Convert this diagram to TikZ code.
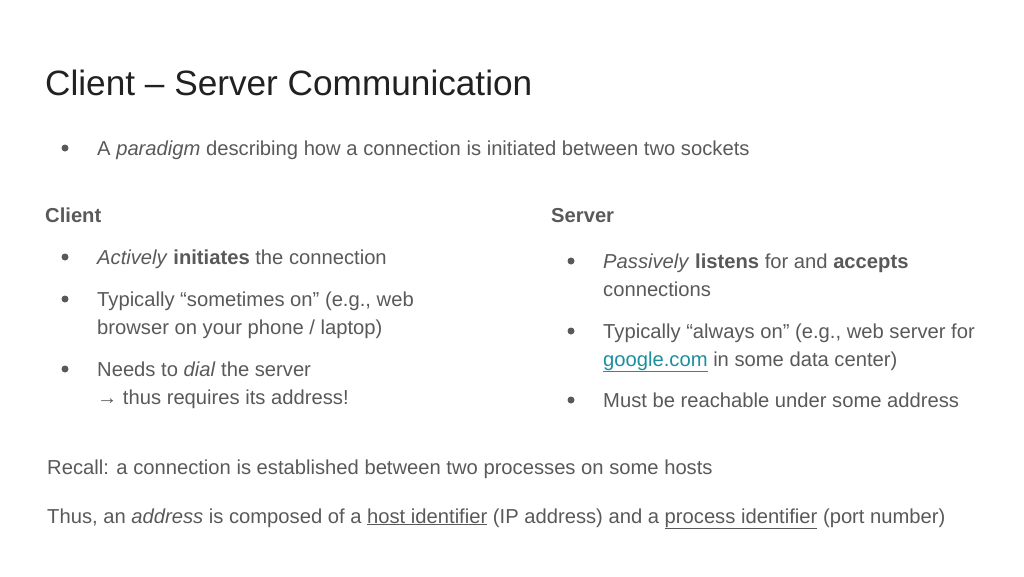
\documentclass[tikz,border=0pt]{standalone}
\usepackage{fontspec}
\setmainfont{Liberation Sans}
\definecolor{body}{HTML}{595959}
\definecolor{ttl}{HTML}{212121}
\definecolor{lnk}{HTML}{1A8FA0}
\begin{document}
\begin{tikzpicture}[x=1pt,y=-1pt,
  txt/.style={anchor=base west,inner sep=0pt,text=body,font=\fontsize{20.2}{28}\selectfont},
  dot/.style={circle,fill=body,inner sep=0pt,minimum size=7pt}]
\useasboundingbox (0,0) rectangle (1024,576);
\node[anchor=base west,inner sep=0pt,text=ttl,font=\fontsize{35.2}{40}\selectfont] (title) at (45,95) {Client – Server Communication};
\node[dot] (b0) at (65,148) {};
\node[txt] (l0) at (97,155) {A \textit{paradigm} describing how a connection is initiated between two sockets};
\node[txt,font=\fontsize{20.2}{28}\selectfont\bfseries] (ch) at (45,222) {Client};
\node[txt,font=\fontsize{20.2}{28}\selectfont\bfseries] (sh) at (551,222) {Server};
\node[dot] (c1d) at (65,257) {};
\node[txt] (c1) at (97,264) {\textit{Actively} \textbf{initiates} the connection};
\node[dot] (c2d) at (65,299) {};
\node[txt] (c2) at (97,306) {Typically “sometimes on” (e.g., web};
\node[txt] (c2b) at (97,334) {browser on your phone / laptop)};
\node[dot] (c3d) at (65,369) {};
\node[txt] (c3) at (97,376) {Needs to \textit{dial} the server};
\node[txt] (c3b) at (97,404) {→ thus requires its address!};
\node[dot] (s1d) at (571,261) {};
\node[txt] (s1) at (603,268) {\textit{Passively} \textbf{listens} for and \textbf{accepts}};
\node[txt] (s1b) at (603,296) {connections};
\node[dot] (s2d) at (571,331) {};
\node[txt] (s2) at (603,338) {Typically “always on” (e.g., web server for};
\node[txt] (s2b) at (603,366) {{\color{lnk}\underline{google.com}} in some data center)};
\node[dot] (s3d) at (571,400) {};
\node[txt] (s3) at (603,407) {Must be reachable under some address};
\node[txt] (r) at (47,474) {Recall: a connection is established between two processes on some hosts};
\node[txt] (t) at (47,523) {Thus, an \textit{address} is composed of a \underline{host identifier} (IP address) and a \underline{process identifier} (port number)};
\end{tikzpicture}
\end{document}
